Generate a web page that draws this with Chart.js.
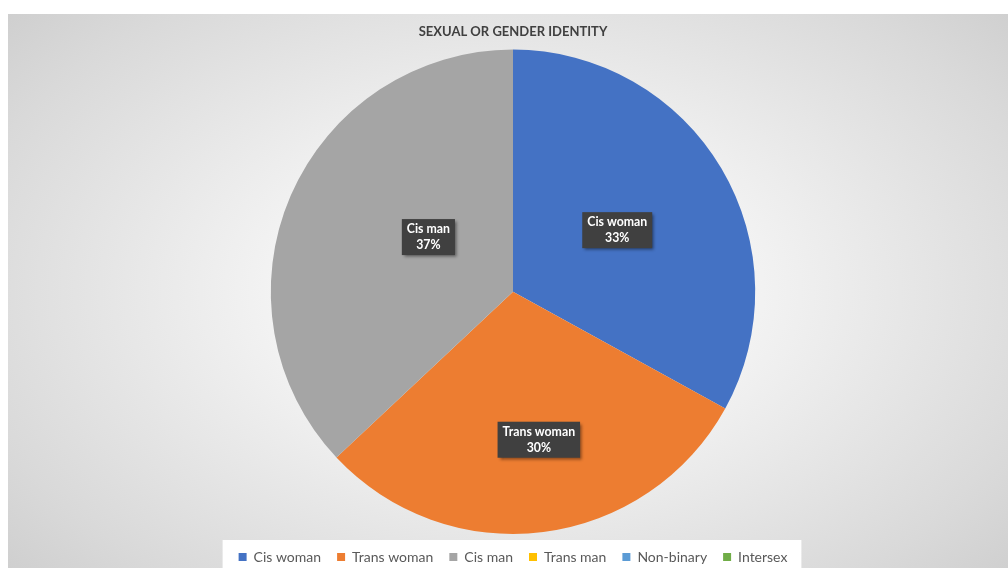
<!DOCTYPE html>
<html>
<head>
<meta charset="utf-8">
<script src="https://cdn.jsdelivr.net/npm/chart.js@4.4.0/dist/chart.umd.min.js"></script>
<style>
  html, body { margin: 0; padding: 0; background: #ffffff; overflow: hidden; }
  #wrap {
    position: absolute; left: 8px; top: 14px; width: 1000px; height: 554px; overflow: hidden;
    background: radial-gradient(ellipse 75% 85% at 50.5% 50%, #ffffff 0%, #f4f4f4 30%, #d9d9d9 75%, #c8c8c8 100%);
  }
  canvas { display: block; }
</style>
</head>
<body>
<div id="wrap"><canvas id="c" width="1000" height="560"></canvas></div>
<script>
const categories = ["Cis woman", "Trans woman", "Cis man", "Trans man", "Non-binary", "Intersex"];
const percentValues = [33, 30, 37, 0, 0, 0];
const sliceColors = ["#4472C4", "#ED7D31", "#A5A5A5", "#FFC000", "#5B9BD5", "#70AD47"];
const chartTitle = "SEXUAL OR GENDER IDENTITY";

const legendBg = {
  id: 'legendBg',
  beforeDraw(chart) {
    const lg = chart.legend;
    if (!lg || !lg.legendHitBoxes || !lg.legendHitBoxes.length) return;
    const boxes = lg.legendHitBoxes;
    let l = Infinity, r = -Infinity;
    boxes.forEach(b => { l = Math.min(l, b.left); r = Math.max(r, b.left + b.width); });
    const ctx = chart.ctx;
    ctx.save();
    ctx.fillStyle = '#ffffff';
    ctx.fillRect(l - 16, boxes[0].top - 10, (r - l) + 30, 50);
    ctx.restore();
  }
};

// label placement: fraction of radius and angular offset (degrees) per slice
const labelRadial = [0.50, 0.62, 0.416, 0.5, 0.5, 0.5];
const labelAngleShift = [0, -2.7, 9.5, 0, 0, 0];

const dataLabels = {
  id: 'dataLabels',
  afterDatasetsDraw(chart) {
    const ctx = chart.ctx;
    const meta = chart.getDatasetMeta(0);
    const ds = chart.data.datasets[0];
    meta.data.forEach((arc, i) => {
      const v = ds.data[i];
      if (!v) return;
      const p = arc.getProps(['x', 'y', 'startAngle', 'endAngle', 'outerRadius'], true);
      const mid = (p.startAngle + p.endAngle) / 2 + labelAngleShift[i] * Math.PI / 180;
      const rr = p.outerRadius * labelRadial[i];
      const cx = p.x + Math.cos(mid) * rr;
      const cy = p.y + Math.sin(mid) * rr;
      const line1 = chart.data.labels[i];
      const line2 = v + '%';
      ctx.save();
      ctx.font = 'bold 12.3px Lato, "Open Sans", sans-serif';
      const w = Math.max(ctx.measureText(line1).width, ctx.measureText(line2).width) + 10;
      const h = 36;
      ctx.shadowColor = 'rgba(0,0,0,0.45)';
      ctx.shadowBlur = 3;
      ctx.shadowOffsetX = 2;
      ctx.shadowOffsetY = 2;
      ctx.fillStyle = '#404040';
      ctx.fillRect(cx - w / 2, cy - h / 2, w, h);
      ctx.shadowColor = 'transparent';
      ctx.fillStyle = '#ffffff';
      ctx.textAlign = 'center';
      ctx.textBaseline = 'middle';
      ctx.fillText(line1, cx, cy - 8);
      ctx.fillText(line2, cx, cy + 8);
      ctx.restore();
    });
  }
};

new Chart(document.getElementById('c'), {
  type: 'pie',
  data: {
    labels: categories,
    datasets: [{
      data: percentValues,
      backgroundColor: sliceColors,
      borderWidth: 0
    }]
  },
  options: {
    responsive: false,
    animation: false,
    layout: { padding: { top: 0, bottom: 0, left: 10, right: 0 } },
    plugins: {
      tooltip: { enabled: false },
      title: {
        display: true,
        text: chartTitle,
        color: '#404040',
        font: { family: 'Lato, "Open Sans", sans-serif', size: 13, weight: 'bold' },
        padding: { top: 10, bottom: 10 }
      },
      legend: {
        position: 'bottom',
        labels: {
          color: '#595959',
          font: { family: 'Lato, "Open Sans", sans-serif', size: 14 },
          boxWidth: 8,
          boxHeight: 8,
          padding: 16
        }
      }
    }
  },
  plugins: [legendBg, dataLabels]
});
</script>
</body>
</html>
